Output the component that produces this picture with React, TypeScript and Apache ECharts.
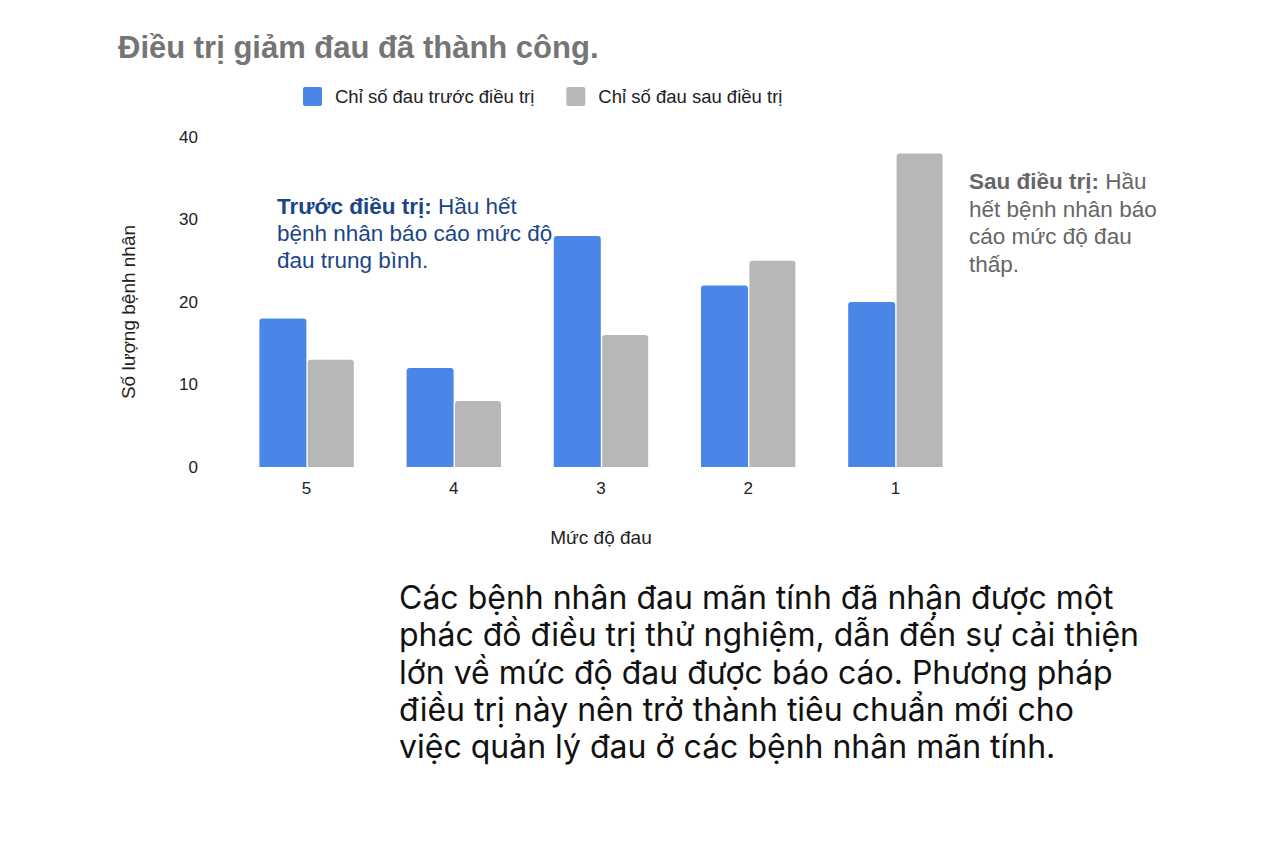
import React, { useEffect, useRef } from "react";
import * as echarts from "echarts";

const categories = ["5", "4", "3", "2", "1"];
const beforeValues = [18, 12, 28, 22, 20];
const afterValues = [13, 8, 16, 25, 38];
const seriesNames = ["Chỉ số đau trước điều trị", "Chỉ số đau sau điều trị"];
const titleText = "Điều trị giảm đau đã thành công.";
const yAxisName = "Số lượng bệnh nhân";
const xAxisName = "Mức độ đau";
const bodyLines = [
  "Các bệnh nhân đau mãn tính đã nhận được một",
  "phác đồ điều trị thử nghiệm, dẫn đến sự cải thiện",
  "lớn về mức độ đau được báo cáo. Phương pháp",
  "điều trị này nên trở thành tiêu chuẩn mới cho",
  "việc quản lý đau ở các bệnh nhân mãn tính.",
];

const FONT = "'Liberation Sans', Arial, sans-serif";

export default function App() {
  const ref = useRef<HTMLDivElement>(null);
  useEffect(() => {
    if (!ref.current) return;
    const chart = echarts.init(ref.current, undefined, { renderer: "svg" });
    chart.setOption({
      animation: false,
      backgroundColor: "#ffffff",
      textStyle: { fontFamily: FONT },
      title: {
        text: titleText,
        left: 113,
        top: 27,
        textStyle: { fontSize: 31, fontWeight: "bold", color: "#757575", fontFamily: FONT },
      },
      legend: {
        top: 87,
        left: 303,
        padding: 0,
        itemWidth: 19,
        itemHeight: 19,
        itemGap: 32,
        icon: "path://M2,0H17A2,2,0,0,1,19,2V17A2,2,0,0,1,17,19H2A2,2,0,0,1,0,17V2A2,2,0,0,1,2,0Z",
        textStyle: { fontSize: 18.5, color: "#222", fontFamily: FONT, padding: [0, 0, 0, 8] },
        data: seriesNames,
      },
      grid: { left: 233, right: 1264 - 969, top: 137, bottom: 846 - 467 },
      xAxis: {
        type: "category",
        data: categories,
        name: xAxisName,
        nameLocation: "middle",
        nameGap: 61,
        nameTextStyle: { fontSize: 19, color: "#222", fontFamily: FONT },
        axisLine: { show: false },
        axisTick: { show: false },
        axisLabel: { fontSize: 17, color: "#222", margin: 13, fontFamily: FONT },
      },
      yAxis: {
        type: "value",
        min: 0,
        max: 40,
        interval: 10,
        splitLine: { show: false },
        axisLine: { show: false },
        axisTick: { show: false },
        axisLabel: { fontSize: 17, color: "#222", margin: 35, fontFamily: FONT },
      },
      series: [
        {
          name: seriesNames[0],
          type: "bar",
          data: beforeValues,
          barWidth: 47,
          barGap: "3%",
          itemStyle: { color: "#4a86e8", borderRadius: [3, 3, 0, 0] },
        },
        {
          name: seriesNames[1],
          type: "bar",
          data: afterValues,
          barWidth: 46,
          itemStyle: { color: "#b7b7b7", borderRadius: [3, 3, 0, 0] },
        },
      ],
      graphic: [
        {
          type: "text",
          x: 128,
          y: 312,
          rotation: Math.PI / 2,
          style: {
            text: yAxisName,
            font: `19px ${FONT}`,
            fill: "#222",
            align: "center",
            verticalAlign: "middle",
          },
        },
        {
          type: "text",
          left: 277,
          top: 193,
          style: {
            text: "{b|Trước điều trị:} Hầu hết\nbệnh nhân báo cáo mức độ\nđau trung bình.",
            font: `22.5px ${FONT}`,
            fill: "#1c4587",
            lineHeight: 27,
            rich: {
              b: { fontWeight: "bold", fontSize: 22.5, fill: "#1c4587", fontFamily: FONT, lineHeight: 27 },
            },
          },
        },
        {
          type: "text",
          left: 969,
          top: 168,
          style: {
            text: "{b|Sau điều trị:} Hầu\nhết bệnh nhân báo\ncáo mức độ đau\nthấp.",
            font: `22.5px ${FONT}`,
            fill: "#666666",
            lineHeight: 27.5,
            rich: {
              b: { fontWeight: "bold", fontSize: 22.5, fill: "#666666", fontFamily: FONT, lineHeight: 27.5 },
            },
          },
        },
        {
          type: "text",
          left: 399,
          top: 579,
          style: {
            text: bodyLines.join("\n"),
            font: `32px Inter, 'Noto Sans', sans-serif`,
            fill: "#111111",
            lineHeight: 37.2,
          },
        },
      ],
    });
    return () => chart.dispose();
  }, []);
  return (
    <div
      ref={ref}
      style={{ position: "fixed", left: 0, top: 0, width: 1264, height: 846 }}
    />
  );
}
